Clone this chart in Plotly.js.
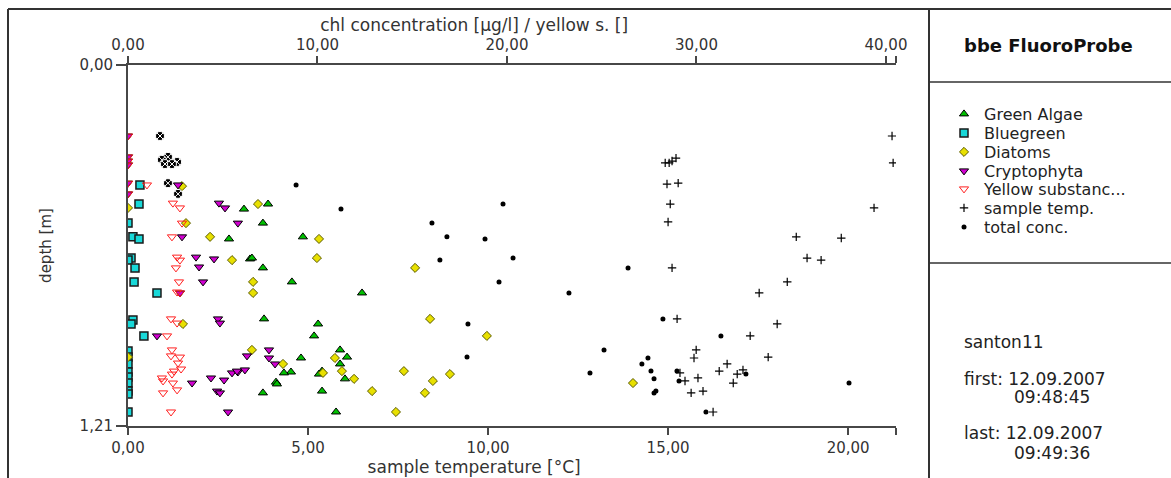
<!DOCTYPE html>
<html>
<head>
<meta charset="utf-8">
<script src="https://cdn.plot.ly/plotly-3.0.1.min.js"></script>
<style>html,body{margin:0;padding:0;background:#fff;}#chart{width:1171px;height:478px;}</style>
</head>
<body>
<div id="chart"></div>
<script>
// ---- data ----
const greenDepth = [0.483,0.466,0.530,0.583,0.576,0.650,0.647,0.680,0.727,0.764,0.851,0.868,0.908,0.955,0.982,0.979,1.002,1.029,1.032,1.026,1.036,1.052,1.063,1.069,1.099,1.093,1.163];
const greenConc  = [6.12,7.39,7.12,5.33,9.23,6.44,6.54,7.12,8.65,12.35,7.18,10.03,9.82,11.19,9.13,11.56,11.19,8.60,8.23,10.24,10.08,11.45,7.81,7.86,7.12,10.24,10.98];

const bluegreenDepth = [0.402,0.466,0.530,0.576,0.583,0.647,0.654,0.680,0.727,0.764,0.855,0.868,0.908,0.959,0.979,1.002,1.029,1.046,1.066,1.093,1.103,1.163];
const bluegreenConc  = [0.63,0.58,0,0.26,0.58,0.16,0,0.37,0.32,1.53,0.26,0.16,0.84,0,0,0,0,0,0,0,0,0];

const diatomDepth = [0.466,0.406,0.479,0.530,0.576,0.583,0.654,0.647,0.680,0.727,0.764,0.868,0.851,0.955,0.982,1.002,1.026,1.032,1.052,1.026,1.036,1.059,1.093,1.099,1.163,0.979,0.908,1.066];
const diatomConc  = [6.86,2.85,0,3.06,4.33,10.08,5.49,9.97,15.15,6.60,6.60,2.90,15.94,6.54,10.92,8.18,11.29,10.29,11.93,14.56,16.99,16.09,12.88,15.67,14.14,0,18.94,26.65];

const cryptoDepth = [0.238,0.308,0.322,0.335,0.396,0.432,0.402,0.463,0.479,0.530,0.576,0.644,0.650,0.677,0.727,0.764,0.851,0.865,0.908,0.955,0.975,0.982,1.002,1.066,1.049,1.056,1.032,1.029,1.022,1.026,1.093,1.099,1.163];
const cryptoConc  = [0,0,0,0,0,0,2.64,4.80,5.12,5.80,2.85,3.59,4.54,3.75,3.96,2.74,4.75,4.85,1.53,7.44,6.28,7.44,7.76,3.38,4.38,5.07,5.49,5.80,6.17,5.75,4.70,4.85,5.28];

const yellowDepth = [0.238,0.308,0.322,0.335,0.396,0.432,0.402,0.463,0.479,0.530,0.576,0.644,0.654,0.680,0.727,0.761,0.764,0.851,0.865,0.908,0.955,0.975,0.979,0.999,1.026,1.019,1.036,1.049,1.059,1.066,1.089,1.099,1.163];
const yellowValue = [0,0,0,0,0,0,1.00,2.37,2.74,2.85,2.32,2.59,2.74,2.53,2.69,2.59,2.74,2.27,2.59,2.06,2.32,2.27,2.74,2.64,2.43,2.80,2.32,1.79,1.85,2.37,2.59,1.85,2.27];

const tempDepth = [0.238,0.328,0.328,0.328,0.322,0.312,0.399,0.396,0.466,0.526,0.479,0.576,0.580,0.647,0.654,0.680,0.727,0.764,0.851,0.868,0.908,0.955,0.982,0.979,1.002,1.026,1.032,1.036,1.022,1.059,1.049,1.066,1.093,1.099,1.163];
const tempValue = [21.22,21.25,14.92,15.03,15.11,15.22,14.97,15.28,15.06,15.00,20.72,18.56,19.81,18.86,19.25,15.11,18.31,17.53,15.25,18.03,17.28,15.78,15.72,17.78,16.64,16.42,15.33,16.92,17.08,15.47,15.83,16.81,15.97,15.64,16.25];

const totalDepth = [0.238,0.308,0.318,0.325,0.332,0.332,0.396,0.432,0.402,0.483,0.530,0.576,0.583,0.654,0.647,0.680,0.727,0.764,0.868,0.851,0.908,0.979,0.955,0.982,1.002,1.032,1.026,1.052,1.099,1.093,1.026,1.059,1.036,1.163,1.066,0.466];
const totalConc  = [1.69,2.11,1.79,2.59,1.95,2.32,2.11,2.64,8.87,11.24,16.04,16.83,18.84,16.46,20.32,26.39,19.58,23.27,17.94,28.23,31.29,17.89,25.12,27.44,27.12,24.38,27.60,27.76,27.76,27.86,28.97,29.08,32.61,30.50,38.05,19.79];

const seriesNames = ['Green Algae','Bluegreen','Diatoms','Cryptophyta','Yellow substanc...','sample temp.','total conc.'];

const tempTicks = [0,5,10,15,20];
const tempTickText = ['0,00','5,00','10,00','15,00','20,00'];
const chlTicks = [0,10,20,30,40];
const chlTickText = ['0,00','10,00','20,00','30,00','40,00'];
const depthTicks = [0,1.21];
const depthTickText = ['0,00','1,21'];

const tempMax = 21.33, chlMax = 40.53, depthMax = 1.21;

const infoLines = ['santon11','first: 12.09.2007','09:48:45','last: 12.09.2007','09:49:36'];

// ---- layout helpers (pixel -> paper) ----
const W = 1171, H = 478, L = 128, R = 896, T = 65, B = 426;
const PX = p => (p - L) / (R - L);
const PY = p => (B - p) / (B - T);
const FONT = 'DejaVu Sans, Verdana, sans-serif';
const AX = '#474747';
const PADR = '&nbsp;'.repeat(14);   // shifts the centred axis titles to the left, as in the reference

const mk = (sym, col, line, size, lw) => ({symbol: sym, color: col, size: size, line: {color: line, width: lw}});

const legKeys = ['legend','legend2','legend3','legend4','legend5','legend6','legend7'];

const traces = [
  {x: greenConc, y: greenDepth, xaxis: 'x2', yaxis: 'y', name: seriesNames[0], legend: legKeys[0],
   mode: 'markers', type: 'scatter', marker: mk('triangle-up', '#00c000', '#000', 8, 1)},
  {x: bluegreenConc, y: bluegreenDepth, xaxis: 'x2', yaxis: 'y', name: seriesNames[1], legend: legKeys[1],
   mode: 'markers', type: 'scatter', marker: mk('square', '#18d8d8', '#1a1a1a', 8, 1.5)},
  {x: diatomConc, y: diatomDepth, xaxis: 'x2', yaxis: 'y', name: seriesNames[2], legend: legKeys[2],
   mode: 'markers', type: 'scatter', marker: mk('diamond', '#e8e000', '#5a5a00', 7, 1)},
  {x: cryptoConc, y: cryptoDepth, xaxis: 'x2', yaxis: 'y', name: seriesNames[3], legend: legKeys[3],
   mode: 'markers', type: 'scatter', marker: mk('triangle-down', '#d000d0', '#000', 8, 1)},
  {x: yellowValue, y: yellowDepth, xaxis: 'x2', yaxis: 'y', name: seriesNames[4], legend: legKeys[4],
   mode: 'markers', type: 'scatter', marker: mk('triangle-down-open', '#ff2020', '#ff2020', 8, 1)},
  {x: tempValue, y: tempDepth, xaxis: 'x', yaxis: 'y', name: seriesNames[5], legend: legKeys[5],
   mode: 'markers', type: 'scatter', marker: mk('cross-thin', '#000', '#000', 6, 1.2)},
  {x: totalConc.filter(v => v >= 3), y: totalDepth.filter((d, i) => totalConc[i] >= 3), xaxis: 'x2', yaxis: 'y',
   name: seriesNames[6], legend: legKeys[6],
   mode: 'markers', type: 'scatter', marker: mk('circle', '#000', '#000', 5, 0)},
  {x: totalConc.filter(v => v < 3), y: totalDepth.filter((d, i) => totalConc[i] < 3), xaxis: 'x2', yaxis: 'y',
   name: seriesNames[6], showlegend: false,
   mode: 'markers', type: 'scatter', marker: mk('circle-x', '#000', '#fff', 9, 1)}
];

const rowY = [114,133,152,171,189,208,227];
const legendBase = {
  xanchor: 'left', yanchor: 'middle', bgcolor: 'rgba(0,0,0,0)', borderwidth: 0,
  font: {family: FONT, size: 16, color: '#222'}, itemwidth: 30, tracegroupgap: 0
};

const axisBase = {
  showgrid: false, zeroline: false, showline: true, linewidth: 2, linecolor: AX,
  ticks: 'outside', tickwidth: 2, tickcolor: AX, ticklen: 7,
  tickfont: {family: FONT, size: 15, color: '#333'}, automargin: false, fixedrange: true
};

const layout = {
  width: W, height: H,
  margin: {l: L, r: W - R, t: T, b: H - B, pad: 0},
  paper_bgcolor: '#fff', plot_bgcolor: '#fff',
  showlegend: true,
  xaxis: Object.assign({}, axisBase, {
    range: [0, tempMax], side: 'bottom', anchor: 'y',
    tickmode: 'array', tickvals: tempTicks.concat([tempMax]), ticktext: tempTickText.concat(['']),
    title: {text: 'sample temperature [°C]' + PADR, font: {family: FONT, size: 17, color: '#333'}, standoff: 0}
  }),
  xaxis2: Object.assign({}, axisBase, {
    range: [0, chlMax], side: 'top', overlaying: 'x', anchor: 'y',
    tickmode: 'array', tickvals: chlTicks.concat([chlMax]), ticktext: chlTickText.concat(['']),
    title: {text: 'chl concentration [µg/l] / yellow s. []' + PADR, font: {family: FONT, size: 17, color: '#333'}, standoff: 0}
  }),
  yaxis: Object.assign({}, axisBase, {
    range: [depthMax, 0], ticklen: 10,
    tickmode: 'array', tickvals: depthTicks, ticktext: depthTickText,
    title: {text: 'depth [m]', font: {family: FONT, size: 15, color: '#333'}, standoff: 24}
  }),
  shapes: [
    {type: 'line', xref: 'paper', yref: 'paper', x0: PX(8), x1: PX(W), y0: PY(9), y1: PY(9), line: {color: '#333', width: 2}},
    {type: 'line', xref: 'paper', yref: 'paper', x0: PX(8), x1: PX(8), y0: PY(9), y1: PY(H + 2), line: {color: '#333', width: 2}},
    {type: 'line', xref: 'paper', yref: 'paper', x0: PX(929), x1: PX(929), y0: PY(9), y1: PY(H + 2), line: {color: '#333', width: 2}},
    {type: 'line', xref: 'paper', yref: 'paper', x0: PX(929), x1: PX(W), y0: PY(82), y1: PY(82), line: {color: '#333', width: 1.5}},
    {type: 'line', xref: 'paper', yref: 'paper', x0: PX(929), x1: PX(W), y0: PY(263), y1: PY(263), line: {color: '#333', width: 1.5}}
  ],
  annotations: [
    {text: '<b>bbe FluoroProbe</b>', xref: 'paper', yref: 'paper', x: PX(962), y: PY(45), xanchor: 'left', yanchor: 'middle',
     showarrow: false, font: {family: FONT, size: 18, color: '#111'}},
    {text: infoLines[0], xref: 'paper', yref: 'paper', x: PX(962), y: PY(342), xanchor: 'left', yanchor: 'middle', showarrow: false, font: {family: FONT, size: 17, color: '#222'}},
    {text: infoLines[1], xref: 'paper', yref: 'paper', x: PX(962), y: PY(379), xanchor: 'left', yanchor: 'middle', showarrow: false, font: {family: FONT, size: 17, color: '#222'}},
    {text: infoLines[2], xref: 'paper', yref: 'paper', x: PX(1012), y: PY(397), xanchor: 'left', yanchor: 'middle', showarrow: false, font: {family: FONT, size: 17, color: '#222'}},
    {text: infoLines[3], xref: 'paper', yref: 'paper', x: PX(962), y: PY(433), xanchor: 'left', yanchor: 'middle', showarrow: false, font: {family: FONT, size: 17, color: '#222'}},
    {text: infoLines[4], xref: 'paper', yref: 'paper', x: PX(1012), y: PY(453), xanchor: 'left', yanchor: 'middle', showarrow: false, font: {family: FONT, size: 17, color: '#222'}}
  ]
};

legKeys.forEach((k, i) => {
  layout[k] = Object.assign({}, legendBase, {x: PX(944), y: PY(rowY[i])});
});

Plotly.newPlot('chart', traces, layout, {displayModeBar: false, staticPlot: true});
</script>
</body>
</html>
